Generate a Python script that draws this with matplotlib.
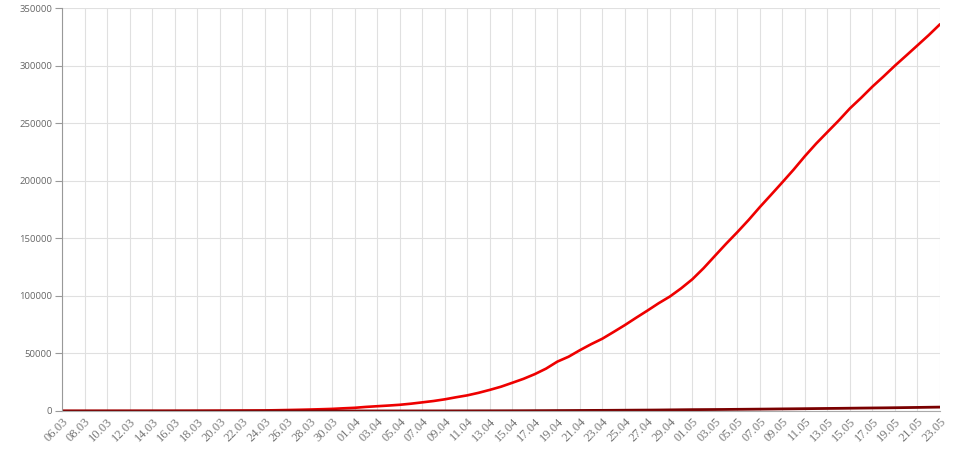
import matplotlib
matplotlib.use('Agg')
import matplotlib.pyplot as plt
import datetime as dt

# Dates 06.03 .. 23.05 (daily)
start = dt.date(2020, 3, 6)
dates = [start + dt.timedelta(days=i) for i in range(79)]
labels = [d.strftime('%d.%m') for d in dates]

# Cumulative confirmed cases
cases = [10, 14, 17, 17, 20, 28, 34, 45, 59, 63, 90, 114, 147, 199, 253, 306,
         367, 438, 495, 658, 840, 1036, 1264, 1534, 1836, 2337,
         2777, 3548, 4149, 4731, 5389, 6343, 7497, 8672, 10131, 11917, 13584,
         15770, 18328, 21102, 24490, 27938, 32008, 36793, 42853, 47121, 52763,
         57999, 62773, 68622, 74588, 80949, 87147, 93558, 99399, 106498,
         114431, 124054, 134686, 145268, 155370, 165929, 177160, 187859,
         198676, 209688, 221344, 232243, 242271, 252245, 262843, 272043,
         281752, 290678, 299941, 308705, 317554, 326448, 335882]

# Cumulative deaths
deaths = [0, 0, 0, 0, 0, 0, 0, 0, 0, 0, 0, 0, 0, 1, 1, 1, 1, 1, 1, 3, 3, 4, 4,
          8, 9, 17, 24, 30, 34, 43, 45, 47, 58, 63, 76, 94, 106, 130, 148, 170,
          198, 232, 273, 313, 361, 405, 456, 513, 555, 615, 681, 747, 794, 867,
          972, 1073, 1169, 1222, 1280, 1356, 1451, 1537, 1625, 1723, 1827,
          1915, 2009, 2116, 2212, 2305, 2418, 2537, 2631, 2722, 2837, 2972,
          3099, 3249, 3388]

fig = plt.figure(figsize=(9.69, 4.57), dpi=100)
ax = fig.add_axes([62 / 969, 1 - 411 / 457, 878 / 969, 403 / 457])

x = list(range(len(dates)))
ax.plot(x, cases, color='#ee0000', linewidth=1.9, solid_capstyle='round')
ax.plot(x, deaths, color='#7a0000', linewidth=2.0, solid_capstyle='round')

ax.set_xlim(0, len(dates) - 1)
ax.set_ylim(0, 350000)
ax.set_yticks(range(0, 350001, 50000))
ax.set_yticklabels([str(v) for v in range(0, 350001, 50000)],
                   fontsize=6.8, color='#666666', family='Open Sans')
ax.set_xticks(x[::2])
ax.set_xticklabels(labels[::2], rotation=45, ha='right', va='top',
                   rotation_mode='anchor', fontsize=9, color='#777777',
                   family=['Liberation Serif', 'DejaVu Serif'])

ax.grid(True, color='#e0e0e0', linewidth=0.8)
ax.set_axisbelow(True)
for side in ['top', 'right']:
    ax.spines[side].set_visible(False)
ax.spines['left'].set_color('#999999')
ax.spines['bottom'].set_color('#aaaaaa')
ax.tick_params(axis='y', length=5, color='#999999', pad=2)
ax.tick_params(axis='x', length=0, pad=3)

fig.savefig('out.png', dpi=100, facecolor='white')
